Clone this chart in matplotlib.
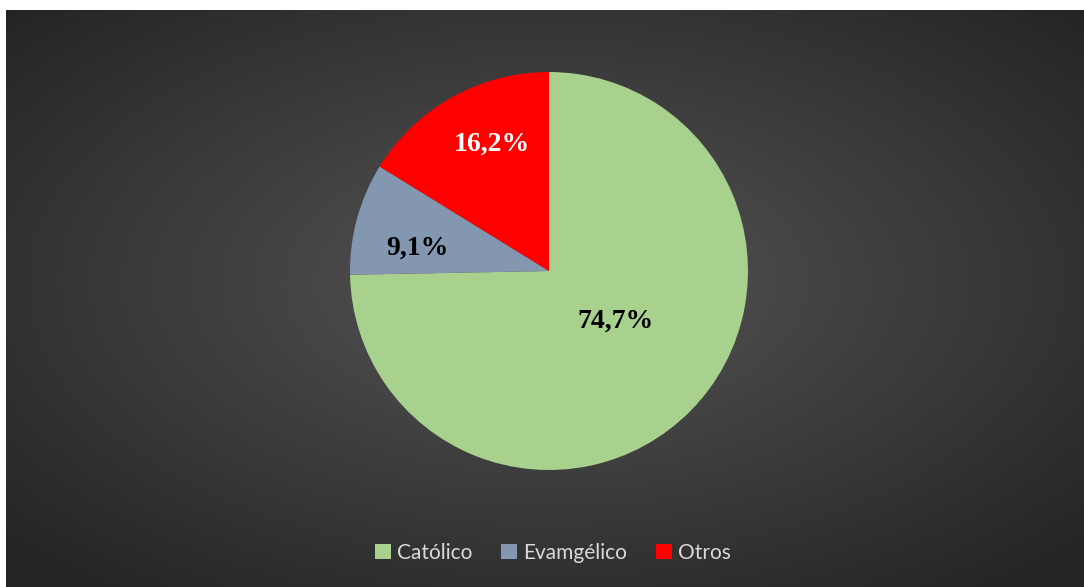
import numpy as np
import matplotlib.pyplot as plt

# Religión declarada
categorias = ['Católico', 'Evamgélico', 'Otros']
porcentajes = [74.7, 9.1, 16.2]
colores = ['#A9D18E', '#8497B0', '#FF0000']
color_etiqueta = ['black', 'black', 'white']
dist_etiqueta = [0.42, 0.67, 0.70]
giro_etiqueta = [7.5, 5.3, -5.0]  # grados respecto al centro de la porción

W, H = 1084, 587
fig = plt.figure(figsize=(W / 100, H / 100), dpi=100, facecolor='white')

# fondo con degradado radial oscuro
bg = fig.add_axes([6 / W, 0, 1 - 6 / W, (H - 10) / H])
ny, nx = 300, 560
yy, xx = np.mgrid[0:ny, 0:nx]
cx, cy = nx * 0.50, ny * 0.47
d = np.sqrt(((xx - cx) / (nx * 0.5)) ** 2 + ((yy - cy) / (ny * 0.5)) ** 2)
d = np.clip(d / 1.35, 0, 1)
centro, borde = 0.335, 0.145
g = centro + (borde - centro) * d
bg.imshow(np.dstack([g, g, g]), aspect='auto', extent=[0, 1, 0, 1])
bg.set_axis_off()

# gráfico de torta
ax = fig.add_axes([350 / W, (H - 470) / H, 398 / W, 398 / H])
wedges, _ = ax.pie(porcentajes, colors=colores, startangle=90,
                   counterclock=False, radius=1)
ax.set_xlim(-1, 1)
ax.set_ylim(-1, 1)
ax.set_aspect('equal')
ax.set_axis_off()

for w, p, c, r, dg in zip(wedges, porcentajes, color_etiqueta,
                          dist_etiqueta, giro_etiqueta):
    ang = np.deg2rad((w.theta1 + w.theta2) / 2 + dg)
    ax.text(r * np.cos(ang), r * np.sin(ang), f'{p:.1f}%'.replace('.', ','),
            ha='center', va='center', color=c, fontsize=20,
            fontweight='bold', family='Liberation Serif')

fig.legend(wedges, categorias, loc='center', bbox_to_anchor=(553 / W, 1 - 553 / H),
           ncol=3, frameon=False, labelcolor='#d9d9d9',
           prop={'family': 'Lato', 'size': 15}, handlelength=0.75,
           handleheight=0.75, handletextpad=0.3, columnspacing=1.4)

fig.savefig('out.png', dpi=100, facecolor='white')
